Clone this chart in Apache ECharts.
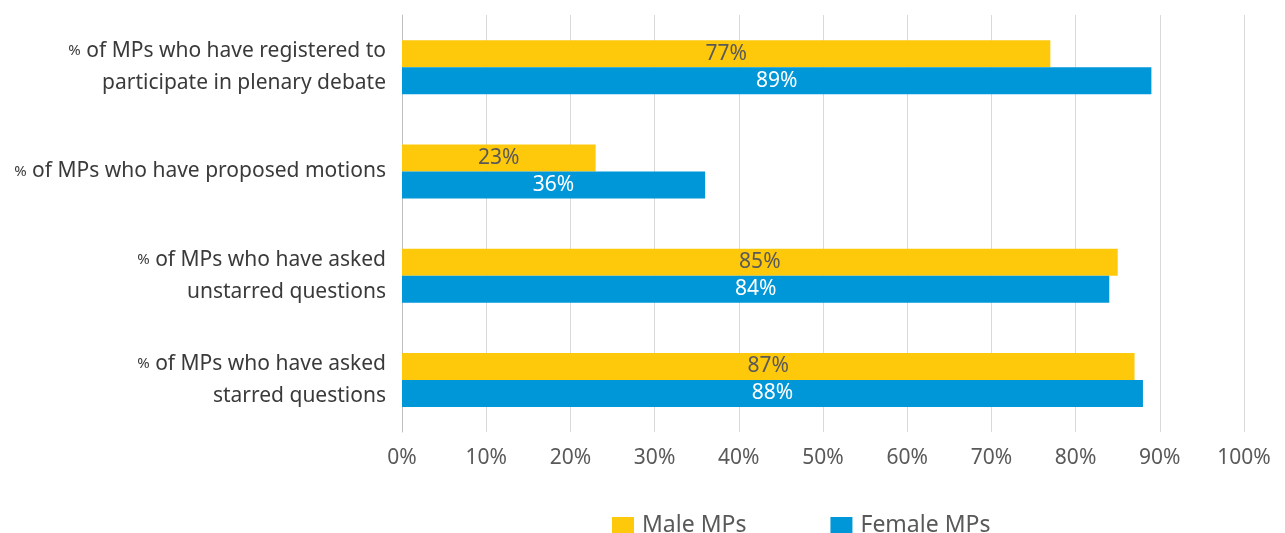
<!DOCTYPE html>
<html><head><meta charset="utf-8">
<script src="https://cdn.jsdelivr.net/npm/echarts@6/dist/echarts.min.js"></script>
<style>html,body{margin:0;padding:0;background:#fff}#c{width:1285px;height:533px}</style>
</head><body><div id="c"></div>
<script>
const categories = [
  "% of MPs who have registered to\nparticipate in plenary debate",
  "% of MPs who have proposed motions",
  "% of MPs who have asked\nunstarred questions",
  "% of MPs who have asked\nstarred questions"
];
const maleValues = [77, 23, 85, 87];
const femaleValues = [89, 36, 84, 88];
const seriesNames = ["Male MPs", "Female MPs"];
const FONT = "'Noto Sans', 'Open Sans', sans-serif";

const chart = echarts.init(document.getElementById('c'), null, {renderer: 'canvas'});
function catFmt(v) {
  return v.split('\n').map(line => line.startsWith('% ') ? '{p|%}' + line.slice(1) : line).join('\n');
}
chart.setOption({
  animation: false,
  grid: {left: 402, right: 41, top: 15, bottom: 101, containLabel: false},
  legend: {
    top: 509, left: 607, itemWidth: 22, itemHeight: 17, itemGap: 84,
    icon: 'rect',
    textStyle: {fontFamily: FONT, fontSize: 23, color: '#595959', padding: [0, 0, 0, 3]},
    data: seriesNames
  },
  xAxis: {
    type: 'value', min: 0, max: 100, interval: 10,
    axisLabel: {formatter: '{value}%', fontFamily: FONT, fontSize: 21, color: '#595959', margin: 16},
    axisLine: {show: false}, axisTick: {show: false},
    splitLine: {lineStyle: {color: '#d9d9d9', width: 1}}
  },
  yAxis: {
    type: 'category', inverse: true, data: categories,
    axisLine: {lineStyle: {color: '#bfbfbf'}}, axisTick: {show: false},
    axisLabel: {
      fontFamily: FONT, fontSize: 21, color: '#3a3a3a', margin: 16, lineHeight: 32,
      formatter: catFmt,
      rich: {p: {fontFamily: FONT, fontSize: 15, color: '#3a3a3a'}}
    }
  },
  series: [
    {
      name: seriesNames[0], type: 'bar', data: maleValues, barWidth: 27, barGap: '0%',
      itemStyle: {color: '#ffc90b'},
      label: {show: true, position: 'inside', formatter: '{c}%', fontFamily: FONT, fontSize: 21, color: '#595959'}
    },
    {
      name: seriesNames[1], type: 'bar', data: femaleValues, barWidth: 27, barGap: '0%',
      itemStyle: {color: '#0097d9'},
      label: {show: true, position: 'inside', formatter: '{c}%', fontFamily: FONT, fontSize: 21, color: '#ffffff'}
    }
  ]
});
</script></body></html>
